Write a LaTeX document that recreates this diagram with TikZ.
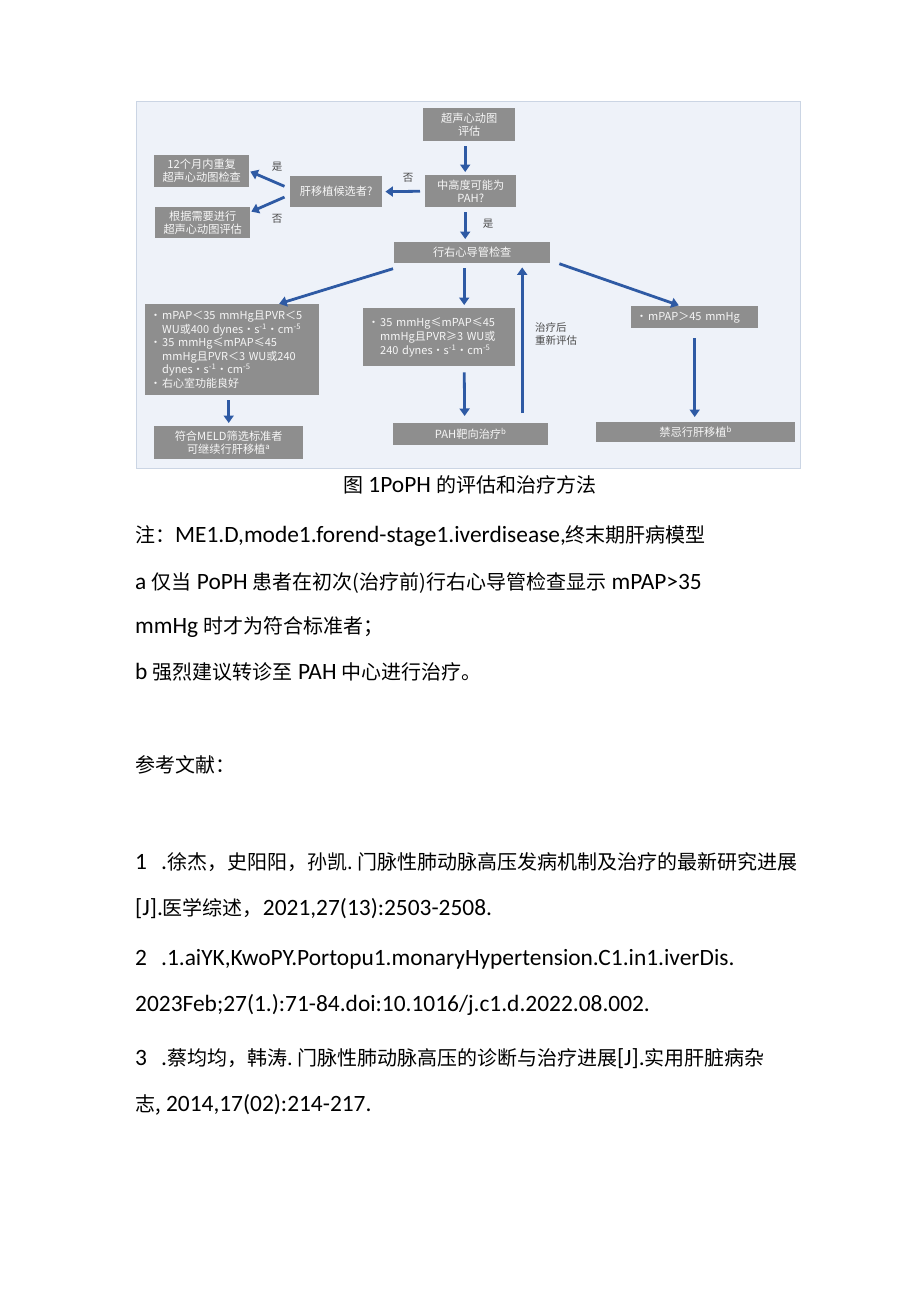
\documentclass[tikz,border=0pt]{standalone}
\usepackage{fontspec}
\setmainfont{Carlito}
\newfontfamily\cjk{Noto Sans CJK SC}
\usetikzlibrary{arrows.meta}
\definecolor{bgfill}{HTML}{EEF2F9}
\definecolor{bgline}{HTML}{CBD5E4}
\definecolor{boxgray}{HTML}{8E8E8E}
\definecolor{boxtext}{HTML}{F6F6F6}
\definecolor{arrowblue}{HTML}{2E5AA4}
\definecolor{lbl}{HTML}{4A4A4A}
\newcommand{\zh}[1]{{\cjk\fontsize{20}{24}\selectfont #1}}
\newcommand{\bul}{\makebox[12pt][l]{•}}
\newcommand{\ind}{\hspace*{12pt}}
\newcommand{\sups}[1]{\textsuperscript{#1}}
\begin{document}
\begin{tikzpicture}[x=1pt,y=-1pt,
  gbox/.style={fill=boxgray, text=boxtext, anchor=north west, inner sep=0pt,
    font=\cjk\fontsize{11.2}{13}\selectfont, align=center},
  lbox/.style={gbox, align=left, inner xsep=5pt, font=\cjk\fontsize{11}{13.6}\selectfont},
  arr/.style={draw=arrowblue, line width=2.8pt, -{Triangle[length=7.5pt,width=10pt]}, shorten <=5pt, shorten >=3pt},
  elabel/.style={text=lbl, font=\cjk\fontsize{10.5}{13}\selectfont, inner sep=0pt},
  body/.style={anchor=base west, inner sep=0pt, font=\fontsize{23.4}{28}\selectfont}
]
\useasboundingbox (0,0) rectangle (920,1301);
\fill[white] (0,0) rectangle (920,1301);
% diagram background
\node[draw=bgline, fill=bgfill, line width=0.6pt, minimum width=664pt, minimum height=367pt, anchor=north west, inner sep=0pt] (panel) at (136,101) {};

% boxes
\node[gbox, minimum width=92pt, minimum height=33pt] (echo) at (423,108) {超声心动图\\评估};
\node[gbox, minimum width=91pt, minimum height=32pt] (pah) at (425,175) {中高度可能为\\PAH?};
\node[gbox, minimum width=92pt, minimum height=31pt] (cand) at (290,176) {肝移植候选者?};
\node[gbox, minimum width=95pt, minimum height=32pt] (rep) at (154,155) {12个月内重复\\超声心动图检查};
\node[gbox, minimum width=95pt, minimum height=31pt] (need) at (155,207) {根据需要进行\\超声心动图评估};
\node[gbox, minimum width=156pt, minimum height=21pt] (rhc) at (394,242) {行右心导管检查};
\node[lbox, text width=164pt, minimum height=91pt] (left) at (145,304)
  {\bul mPAP＜35 mmHg且PVR＜5\\
   \ind WU或400 dynes·s\sups{-1}·cm\sups{-5}\\
   \bul 35 mmHg≤mPAP≤45\\
   \ind mmHg且PVR＜3 WU或240\\
   \ind dynes·s\sups{-1}·cm\sups{-5}\\
   \bul 右心室功能良好};
\node[lbox, text width=142pt, minimum height=58pt, font=\cjk\fontsize{11}{14}\selectfont] (mid) at (363,308)
  {\bul 35 mmHg≤mPAP≤45\\
   \ind mmHg且PVR≥3 WU或\\
   \ind 240 dynes·s\sups{-1}·cm\sups{-5}};
\node[lbox, text width=117pt, minimum height=22pt] (right) at (631,306) {\bul mPAP＞45 mmHg};
\node[gbox, minimum width=149pt, minimum height=33pt] (meld) at (154,426) {符合MELD筛选标准者\\可继续行肝移植\sups{a}};
\node[gbox, minimum width=155pt, minimum height=22pt] (treat) at (393,423) {PAH靶向治疗\sups{b}};
\node[gbox, minimum width=199pt, minimum height=20pt] (contra) at (596,422) {禁忌行肝移植\sups{b}};

% connectors
\draw[arr] ([xshift=-4pt]echo.south) -- ([xshift=-5.5pt]pah.north);
\draw[arr] ([xshift=-5.5pt]pah.south) -- ([xshift=-7pt]rhc.north);
\draw[arr] (pah.west) -- (cand.east);
\draw[arr, shorten <=6pt, shorten >=1pt] ([yshift=3pt]cand.west) -- (rep.east);
\draw[arr, shorten <=6pt, shorten >=1pt] ([yshift=-3pt]cand.west) -- ([yshift=-5pt]need.north east);
\draw[arr, shorten <=1pt, shorten >=1pt] ([yshift=-5pt]rhc.south west) -- ([xshift=46pt]left.north);
\draw[arr] ([xshift=-8pt]rhc.south) -- ([xshift=25pt]mid.north);
\draw[arr, shorten <=1pt, shorten >=2pt] ([xshift=8pt]rhc.south east) -- ([xshift=-14pt]right.north);
\draw[arr] ([xshift=-3.5pt]left.south) -- (meld.north);
\draw[arr, shorten <=6pt, shorten >=7pt] ([xshift=25pt]mid.south) -- ([xshift=-6pt]treat.north);
\draw[arr, shorten <=10pt, shorten >=4pt] ([xshift=51.5pt]treat.north) -- ([xshift=50pt]rhc.south);
\draw[arr, shorten <=10pt, shorten >=5pt] (right.south) -- ([xshift=-1pt]contra.north);

% edge labels
\node[elabel] (l1) at (277,167) {是};
\node[elabel] (l2) at (277,219) {否};
\node[elabel] (l3) at (408,178) {否};
\node[elabel] (l4) at (488,224) {是};
\node[elabel, align=left, anchor=west] (l5) at (535,334) {治疗后\\重新评估};

% caption and notes
\node[body] (cap) at (343,492) {\zh{图} 1PoPH \zh{的评估和治疗方法}};
\node[body] (n1) at (135,542) {\zh{注：}ME1.D,mode1.forend-stage1.iverdisease,\zh{终末期肝病模型}};
\node[body] (n2) at (135,589) {a \zh{仅当} PoPH \zh{患者在初次(治疗前)行右心导管检查显示} mPAP>35};
\node[body] (n3) at (135,633) {mmHg \zh{时才为符合标准者；}};
\node[body] (n4) at (135,679) {b \zh{强烈建议转诊至} PAH \zh{中心进行治疗。}};
\node[body] (refh) at (135,772) {\zh{参考文献：}};
\node[body] (r1a) at (135,869) {1\hspace{0.6em}.\zh{徐杰，史阳阳，孙凯.\ 门脉性肺动脉高压发病机制及治疗的最新研究进展}};
\node[body] (r1b) at (135,915) {[J].\zh{医学综述，}2021,27(13):2503-2508.};
\node[body] (r2a) at (135,965) {2\hspace{0.6em}.1.aiYK,KwoPY.Portopu1.monaryHypertension.C1.in1.iverDis.};
\node[body] (r2b) at (135,1011) {2023Feb;27(1.):71-84.doi:10.1016/j.c1.d.2022.08.002.};
\node[body] (r3a) at (135,1065) {3\hspace{0.6em}.\zh{蔡均均，韩涛.\ 门脉性肺动脉高压的诊断与治疗进展}[J].\zh{实用肝脏病杂}};
\node[body] (r3b) at (135,1111) {\zh{志,} 2014,17(02):214-217.};
\end{tikzpicture}
\end{document}
